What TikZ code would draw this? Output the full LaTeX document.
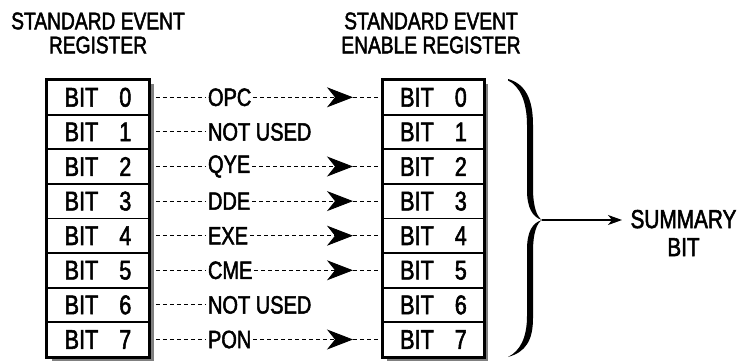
\documentclass[tikz,border=0pt]{standalone}
\usepackage{fontspec}
\setmainfont{Liberation Sans}[FakeStretch=0.8, FakeBold=2]
\usetikzlibrary{arrows.meta}

\begin{document}
\begin{tikzpicture}[x=1pt, y=-1pt, line width=1pt,
  celda/.style={draw, line width=1.8pt, fill=white, minimum width=102pt,
    minimum height=34.6pt, inner sep=0pt, font=\fontsize{27}{28}\selectfont},
  sombra/.style={fill=black!50},
  marco/.style={draw, line width=2.6pt},
  titulo/.style={align=center, inner sep=0pt, font=\fontsize{24}{24}\selectfont},
  etiqueta/.style={anchor=west, inner sep=1.5pt, font=\fontsize{25}{24}\selectfont},
  punteada/.style={line width=0.9pt, dash pattern=on 4pt off 3pt},
  >={Stealth[length=26pt, width=20pt, inset=8pt]}]
  \useasboundingbox (0,0) rectangle (739,362);
  % titulos
  \node[titulo] (tizq) at (98,33) {STANDARD EVENT\\REGISTER};
  \node[titulo] (tder) at (431,33) {STANDARD EVENT\\ENABLE REGISTER};
  % --- sombras de los registros ---
  \fill[sombra] (52,84) rectangle (154,361);
  \fill[sombra] (387,84) rectangle (488,361);
  % --- registros: celdas BIT 0..7 ---
  \foreach \i in {0,...,7} {
    \node[celda] (l\i) at (98,{80+34.6*(\i+0.5)}) {BIT\hspace{21pt}\i};
    \node[celda, minimum width=101pt] (r\i) at (433.5,{80+34.6*(\i+0.5)}) {BIT\hspace{21pt}\i};
  }
  \draw[marco] (l0.north west) rectangle (l7.south east);
  \draw[marco] (r0.north west) rectangle (r7.south east);
  % --- conexiones punteadas ---
  \foreach \i/\txt in {0/OPC,2/QYE,3/DDE,4/EXE,5/CME,7/PON} {
    \node[etiqueta] (e\i) at (206,{80+34.6*(\i+0.5)}) {\txt};
    \coordinate (p\i) at (353,{80+34.6*(\i+0.5)});
    \draw[punteada, shorten <=6pt] (l\i.east) -- (e\i.west);
    \draw[punteada, ->] (e\i.east) -- (p\i);
    \draw[punteada] (p\i) -- (r\i.west);
  }
  \foreach \i in {1,6} {
    \node[etiqueta] (e\i) at (206,{80+34.6*(\i+0.5)}) {NOT USED};
    \draw[punteada, shorten <=6pt] (l\i.east) -- (e\i.west);
  }
  % llave
  \coordinate (punta) at (542,220);
  \fill (508,79) .. controls (526,84) and (533,100) .. (533,125) -- (533,188)
    .. controls (533,207) and (537,217) .. (punta)
    .. controls (532,217) and (527,207) .. (527,190) -- (527,125)
    .. controls (527,102) and (520,86) .. (508,80.5) -- cycle;
  \fill (punta) .. controls (537,223) and (533,232) .. (533,252) -- (533,318)
    .. controls (533,340) and (526,352) .. (508,357)
    .. controls (520,351) and (527,338) .. (527,316) -- (527,250)
    .. controls (527,232) and (532,223) .. (punta) -- cycle;
  % bit de resumen
  \node[titulo, font=\fontsize{26}{28}\selectfont, anchor=west] (resumen) at (630,233) {SUMMARY\\BIT};
  \draw[-{Stealth[length=14pt, width=10pt, inset=4pt]}, line width=1.2pt, shorten >=8pt]
    (punta) -- (punta -| resumen.west);
\end{tikzpicture}
\end{document}
